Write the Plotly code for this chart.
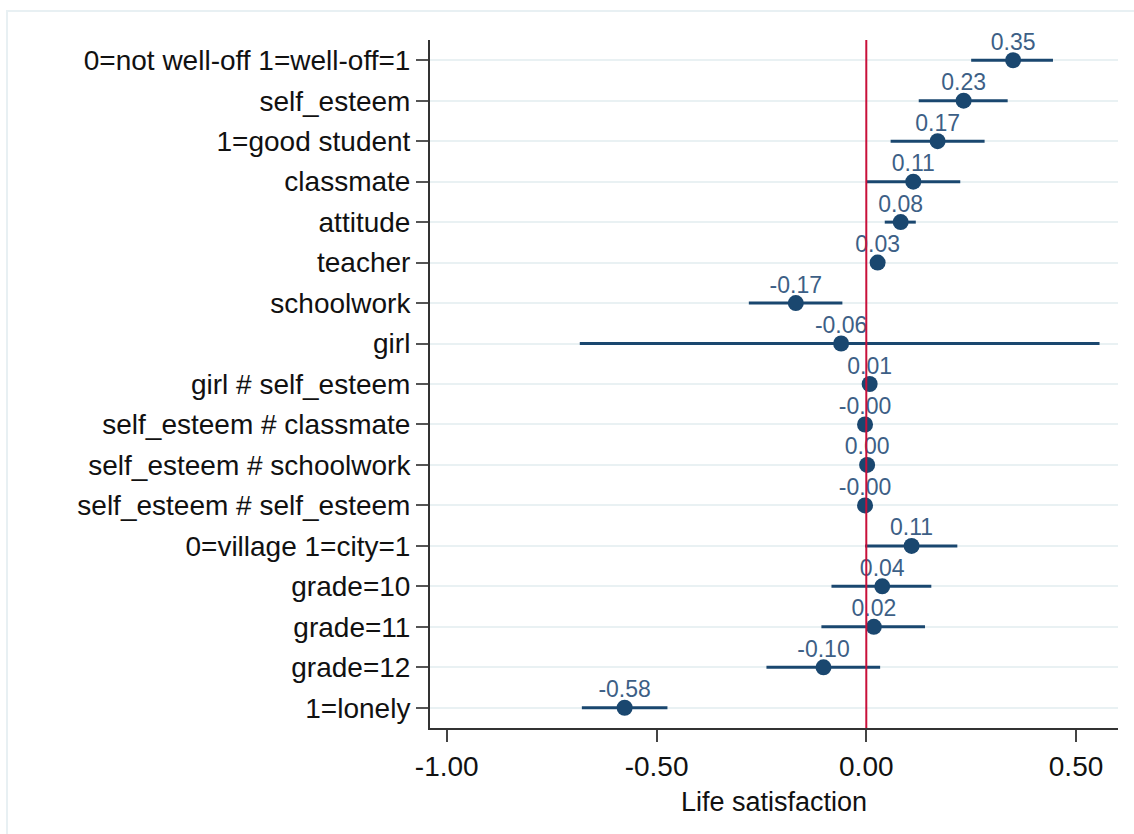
import plotly.graph_objects as go

categories = [
    "0=not well-off 1=well-off=1", "self_esteem", "1=good student", "classmate",
    "attitude", "teacher", "schoolwork", "girl", "girl # self_esteem",
    "self_esteem # classmate", "self_esteem # schoolwork", "self_esteem # self_esteem",
    "0=village 1=city=1", "grade=10", "grade=11", "grade=12", "1=lonely",
]
estimates = [0.350, 0.232, 0.170, 0.112, 0.082, 0.027, -0.168, -0.060, 0.008,
             -0.003, 0.002, -0.003, 0.108, 0.038, 0.018, -0.102, -0.576]
ci_low = [0.250, 0.125, 0.058, 0.000, 0.044, 0.012, -0.280, -0.683, 0.002,
          -0.006, -0.001, -0.005, -0.003, -0.083, -0.107, -0.238, -0.678]
ci_high = [0.445, 0.337, 0.282, 0.224, 0.118, 0.042, -0.057, 0.556, 0.014,
           0.000, 0.005, -0.001, 0.217, 0.155, 0.140, 0.033, -0.474]
x_tickvals = [-1.0, -0.5, 0.0, 0.5]
x_ticktext = ["-1.00", "-0.50", "0.00", "0.50"]

navy = "#1a476f"
font = "Liberation Sans, Arial, sans-serif"

fig = go.Figure()
fig.add_trace(go.Scatter(
    x=estimates, y=categories, mode="markers",
    marker=dict(color=navy, size=16),
    error_x=dict(type="data", symmetric=False,
                 array=[h - e for h, e in zip(ci_high, estimates)],
                 arrayminus=[e - l for e, l in zip(estimates, ci_low)],
                 color=navy, thickness=3, width=0),
    showlegend=False, cliponaxis=False,
))
fig.add_trace(go.Scatter(
    x=estimates, y=categories, mode="markers+text",
    marker=dict(color=navy, size=6, opacity=0),
    text=[f"{v:.2f}" for v in estimates],
    textposition="top center",
    textfont=dict(family=font, size=23, color="#3d5f86"),
    showlegend=False, cliponaxis=False, hoverinfo="skip",
))

fig.add_shape(type="line", x0=0, x1=0, y0=0, y1=1, xref="x", yref="paper",
              line=dict(color="#c8103a", width=2), layer="above")
# outer light frame
fig.add_shape(type="rect", xref="paper", yref="paper",
              x0=-0.6148, x1=1.05, y0=-0.16, y1=1.0422,
              line=dict(color="#e8f0f3", width=2), layer="below")

fig.update_layout(
    width=1134, height=834,
    margin=dict(l=430, r=16, t=40, b=106),
    paper_bgcolor="white", plot_bgcolor="white",
    font=dict(family=font, color="#111"),
)
fig.update_xaxes(
    range=[-1.04, 0.60], tickvals=x_tickvals, ticktext=x_ticktext,
    showgrid=False, zeroline=False,
    showline=True, linecolor="#333", linewidth=2,
    ticks="outside", ticklen=12, tickwidth=2, tickcolor="#444",
    tickfont=dict(size=28, family=font, color="#111"),
    title=dict(text="Life satisfaction", font=dict(size=27, family=font, color="#111"), standoff=12),
)
fig.update_yaxes(
    type="category", categoryorder="array", categoryarray=categories,
    range=[len(categories) - 0.5, -0.5],
    showgrid=True, gridcolor="#e9f1f3", gridwidth=2, zeroline=False,
    showline=True, linecolor="#333", linewidth=2,
    ticks="outside", ticklen=12, tickwidth=2, tickcolor="#555",
    tickfont=dict(size=28, family=font, color="#111"),
)

fig.write_html("out.html")
